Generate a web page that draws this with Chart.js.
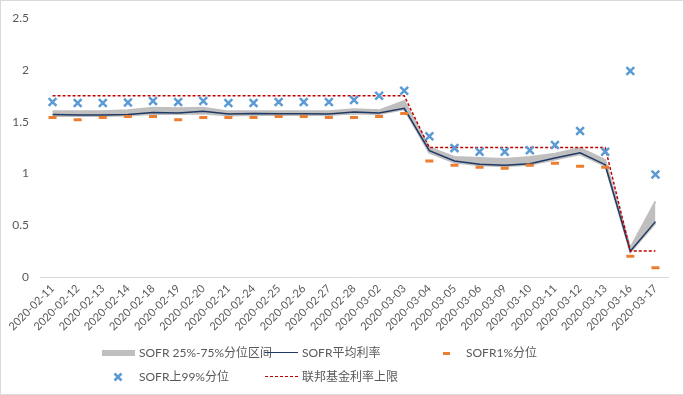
<!DOCTYPE html>
<html>
<head>
<meta charset="utf-8">
<script src="https://cdn.jsdelivr.net/npm/chart.js@4/dist/chart.umd.min.js"></script>
<style>
  body { margin: 0; background: #fff; }
  #wrap { position: relative; width: 684px; height: 395px; font-family: Lato, "Noto Sans CJK SC", sans-serif; }
  #frame { position: absolute; left: 0; top: 0; width: 682px; height: 393px; border: 1px solid #d9d9d9; pointer-events: none; }
  .lg { position: absolute; font-size: 12px; color: #595959; line-height: 16px; white-space: nowrap; }
  .sw { position: absolute; }
</style>
</head>
<body>
<div id="wrap">
  <canvas id="rate-chart" width="684" height="395"></canvas>
  <div id="frame"></div>
  <!-- legend -->
  <div class="sw" style="left:102px;top:350px;width:33px;height:6px;background:#bfbfbf"></div>
  <div class="lg" style="left:139px;top:345px">SOFR 25%-75%分位区间</div>
  <div class="sw" style="left:265px;top:352px;width:33px;height:0;border-top:1.5px solid #203864"></div>
  <div class="lg" style="left:302px;top:345px">SOFR平均利率</div>
  <div class="sw" style="left:443px;top:352px;width:7px;height:0;border-top:3px solid #ed7d31"></div>
  <div class="lg" style="left:466px;top:345px">SOFR1%分位</div>
  <canvas class="sw" id="xmark" width="10" height="10" style="left:113px;top:372px"></canvas>
  <div class="lg" style="left:139px;top:369px">SOFR上99%分位</div>
  <div class="sw" style="left:265px;top:376px;width:33px;height:0;border-top:1.5px dashed #c00000"></div>
  <div class="lg" style="left:302px;top:369px">联邦基金利率上限</div>
</div>
<script>
const dates = ['2020-02-11', '2020-02-12', '2020-02-13', '2020-02-14', '2020-02-18', '2020-02-19', '2020-02-20',
  '2020-02-21', '2020-02-24', '2020-02-25', '2020-02-26', '2020-02-27', '2020-02-28', '2020-03-02', '2020-03-03',
  '2020-03-04', '2020-03-05', '2020-03-06', '2020-03-09', '2020-03-10', '2020-03-11', '2020-03-12', '2020-03-13',
  '2020-03-16', '2020-03-17'];
const p25 = [1.555, 1.555, 1.555, 1.56, 1.575, 1.575, 1.58, 1.56, 1.565, 1.565, 1.565, 1.565, 1.58, 1.575, 1.62,
  1.20, 1.105, 1.08, 1.07, 1.085, 1.135, 1.185, 1.075, 0.24, 0.52];
const p75 = [1.60, 1.60, 1.60, 1.61, 1.635, 1.63, 1.635, 1.60, 1.60, 1.60, 1.60, 1.60, 1.62, 1.61, 1.70,
  1.25, 1.16, 1.15, 1.14, 1.16, 1.19, 1.245, 1.13, 0.28, 0.73];
const meanRate = [1.57, 1.565, 1.565, 1.57, 1.59, 1.585, 1.60, 1.575, 1.58, 1.578, 1.578, 1.575, 1.595, 1.585, 1.63,
  1.22, 1.12, 1.09, 1.08, 1.095, 1.15, 1.20, 1.085, 0.25, 0.535];
const p1 = [1.54, 1.52, 1.54, 1.55, 1.55, 1.52, 1.54, 1.54, 1.54, 1.55, 1.55, 1.54, 1.54, 1.55, 1.58,
  1.12, 1.08, 1.06, 1.05, 1.08, 1.10, 1.07, 1.06, 0.20, 0.09];
const p99 = [1.69, 1.68, 1.68, 1.685, 1.70, 1.69, 1.70, 1.68, 1.68, 1.69, 1.69, 1.69, 1.71, 1.75, 1.80,
  1.36, 1.245, 1.21, 1.21, 1.225, 1.275, 1.41, 1.21, 1.99, 0.99];
const fedUpper = [1.75, 1.75, 1.75, 1.75, 1.75, 1.75, 1.75, 1.75, 1.75, 1.75, 1.75, 1.75, 1.75, 1.75, 1.75,
  1.25, 1.25, 1.25, 1.25, 1.25, 1.25, 1.25, 1.25, 0.25, 0.25];

const gray = '#bfbfbf';

const config = {
  type: 'line',
  data: {
    labels: dates,
    datasets: [
      { label: 'p25', data: p25, borderColor: gray, borderWidth: 2, pointRadius: 0, fill: false, order: 5 },
      { label: 'SOFR 25%-75%分位区间', data: p75, borderColor: gray, borderWidth: 2, pointRadius: 0,
        backgroundColor: gray, fill: '-1', order: 4 },
      { label: 'SOFR平均利率', data: meanRate, borderColor: '#203864', borderWidth: 1.5, pointRadius: 0, order: 3 },
      { label: '联邦基金利率上限', data: fedUpper, borderColor: '#c00000', borderWidth: 1.5, borderDash: [3, 2],
        pointRadius: 0, order: 2 },
      { label: 'SOFR1%分位', data: p1, showLine: false, pointStyle: 'line', pointRadius: 4,
        borderColor: '#ed7d31', pointBorderWidth: 3, order: 1 },
      { label: 'SOFR上99%分位', data: p99, showLine: false, pointStyle: 'crossRot', pointRadius: 5.5,
        borderColor: '#5b9bd5', pointBorderWidth: 2.5, order: 0 },
    ]
  },
  options: {
    responsive: false,
    animation: false,
    layout: { padding: { top: 14, right: 16, left: 0, bottom: 0 } },
    plugins: { legend: { display: false }, tooltip: { enabled: false } },
    scales: {
      x: {
        offset: true,
        grid: { display: false, drawTicks: false },
        border: { display: true, color: '#d9d9d9', width: 1 },
        ticks: { color: '#595959', font: { family: 'Lato', size: 11 }, minRotation: 45, maxRotation: 45,
          autoSkip: false, padding: 5 },
        afterFit: (scale) => { scale.height = 118; }
      },
      y: {
        min: 0, max: 2.5,
        grid: { display: false, drawTicks: false },
        border: { display: false },
        ticks: { stepSize: 0.5, color: '#595959', font: { family: 'Lato', size: 12 }, padding: 11,
          callback: (v) => String(Number(v)) },
        afterFit: (scale) => { scale.width = 40; }
      }
    }
  }
};

const ctx = document.getElementById('rate-chart');
new Chart(ctx, config);

// legend marker for the 99% series
const mk = document.getElementById('xmark').getContext('2d');
mk.strokeStyle = '#5b9bd5';
mk.lineWidth = 2.5;
mk.beginPath();
mk.moveTo(1.5, 1.5); mk.lineTo(8.5, 8.5);
mk.moveTo(8.5, 1.5); mk.lineTo(1.5, 8.5);
mk.stroke();
</script>
</body>
</html>
